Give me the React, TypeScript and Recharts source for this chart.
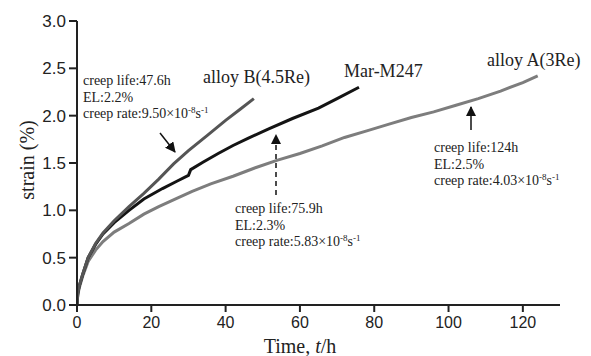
import React from 'react';
import { LineChart, Line, XAxis, YAxis } from 'recharts';

// alloy B(4.5Re): [time h, strain %]
const alloyBTime = [0, 0.2, 0.6, 1.5, 3, 5, 7, 10, 14, 18, 22, 26, 30, 35, 40, 44, 47.6];
const alloyBStrain = [0, 0.12, 0.2, 0.32, 0.5, 0.65, 0.76, 0.89, 1.04, 1.18, 1.33, 1.49, 1.63, 1.79, 1.95, 2.07, 2.18];

// Mar-M247
const marTime = [0, 0.2, 0.6, 1.5, 3, 5, 7, 10, 14, 18, 23, 27, 30, 30.6, 34, 38, 42, 46, 51.6, 58, 65, 70, 75.9];
const marStrain = [0, 0.12, 0.2, 0.32, 0.5, 0.64, 0.75, 0.87, 1.0, 1.12, 1.23, 1.31, 1.37, 1.43, 1.51, 1.6, 1.685, 1.76, 1.86, 1.97, 2.08, 2.18, 2.3];

// alloy A(3Re)
const alloyATime = [0, 0.2, 0.6, 1.5, 3, 5, 7, 10, 14, 18, 22, 27, 31, 36, 42, 48, 54, 60, 66, 72, 78, 84, 90, 96, 102, 108, 114, 120, 124];
const alloyAStrain = [0, 0.1, 0.18, 0.3, 0.46, 0.58, 0.67, 0.77, 0.86, 0.96, 1.04, 1.13, 1.2, 1.28, 1.36, 1.45, 1.53, 1.6, 1.68, 1.77, 1.84, 1.91, 1.98, 2.04, 2.11, 2.18, 2.26, 2.35, 2.42];

const xTicks = [0, 20, 40, 60, 80, 100, 120];
const yTicks = [0, 0.5, 1.0, 1.5, 2.0, 2.5, 3.0];

const toRows = (ts: number[], vs: number[]) => ts.map((t, i) => ({ t, v: vs[i] }));
const dataB = toRows(alloyBTime, alloyBStrain);
const dataM = toRows(marTime, marStrain);
const dataA = toRows(alloyATime, alloyAStrain);

const SERIF = '"Liberation Serif", "Times New Roman", serif';
const SANS = '"Liberation Sans", Arial, sans-serif';
const AX = '#222';

const Rate = ({ x, y, value }: { x: number; y: number; value: string }) => (
  <text x={x} y={y} fontFamily={SERIF} fontSize={14} fill="#222">
    {`creep rate:${value}×10`}
    <tspan dy={-5} fontSize={9}>-8</tspan>
    <tspan dy={5}>s</tspan>
    <tspan dy={-5} fontSize={9}>-1</tspan>
  </text>
);

const Note = ({ x, y, life, el, rate }: { x: number; y: number; life: string; el: string; rate: string }) => (
  <g>
    <text x={x} y={y} fontFamily={SERIF} fontSize={14} fill="#222">{`creep life:${life}`}</text>
    <text x={x} y={y + 16.5} fontFamily={SERIF} fontSize={14} fill="#222">{`EL:${el}`}</text>
    <Rate x={x} y={y + 33} value={rate} />
  </g>
);

export default function App() {
  return (
    <div style={{ position: 'absolute', left: 0, top: 0, width: 591, height: 356, background: '#fff' }}>
      <LineChart width={591} height={356} margin={{ top: 21, right: 31, left: 0, bottom: 0 }}>
        <defs>
          <marker id="ah" viewBox="0 0 10 10" refX="9" refY="5" markerWidth="7" markerHeight="7" orient="auto">
            <path d="M0,0 L10,5 L0,10 z" fill="#111" />
          </marker>
        </defs>
        <XAxis
          dataKey="t"
          type="number"
          domain={[0, 130]}
          ticks={xTicks}
          allowDataOverflow
          height={51}
          tickSize={7}
          tickMargin={5}
          stroke={AX}
          strokeWidth={2}
          tick={{ fill: '#222', fontSize: 16, fontFamily: SANS }}
        />
        <YAxis
          dataKey="v"
          type="number"
          domain={[0, 3]}
          ticks={yTicks}
          width={77}
          tickSize={8}
          tickMargin={3}
          stroke={AX}
          strokeWidth={2}
          tickFormatter={(v: number) => v.toFixed(1)}
          tick={{ fill: '#222', fontSize: 17, fontFamily: SANS }}
        />
        <Line data={dataA} dataKey="v" type="linear" stroke="#7d7d7d" strokeWidth={3} dot={false} isAnimationActive={false} />
        <Line data={dataM} dataKey="v" type="linear" stroke="#141414" strokeWidth={3} dot={false} isAnimationActive={false} />
        <Line data={dataB} dataKey="v" type="linear" stroke="#555555" strokeWidth={3} dot={false} isAnimationActive={false} />

        <text x={203} y={83} fontFamily={SERIF} fontSize={18} fill="#222">alloy B(4.5Re)</text>
        <text x={344} y={77} fontFamily={SERIF} fontSize={18} fill="#222">Mar-M247</text>
        <text x={487} y={66} fontFamily={SERIF} fontSize={18} fill="#222">alloy A(3Re)</text>

        <Note x={83} y={85} life="47.6h" el="2.2%" rate="9.50" />
        <Note x={235} y={213} life="75.9h" el="2.3%" rate="5.83" />
        <Note x={434} y={152} life="124h" el="2.5%" rate="4.03" />

        <line x1={160} y1={133} x2={175} y2={152} stroke="#111" strokeWidth={1.5} markerEnd="url(#ah)" />
        <line x1={276} y1={195} x2={276} y2={135} stroke="#111" strokeWidth={1.5} strokeDasharray="5 4" markerEnd="url(#ah)" />
        <line x1={471} y1={130} x2={471} y2={107} stroke="#111" strokeWidth={1.5} markerEnd="url(#ah)" />

        <text x={300} y={353} textAnchor="middle" fontFamily={SERIF} fontSize={20} fill="#222">
          Time, <tspan fontStyle="italic">t</tspan>/h
        </text>
        <text x={34} y={160} textAnchor="middle" transform="rotate(-90 34 160)" fontFamily={SERIF} fontSize={20} fill="#222">
          strain (%)
        </text>
      </LineChart>
    </div>
  );
}
